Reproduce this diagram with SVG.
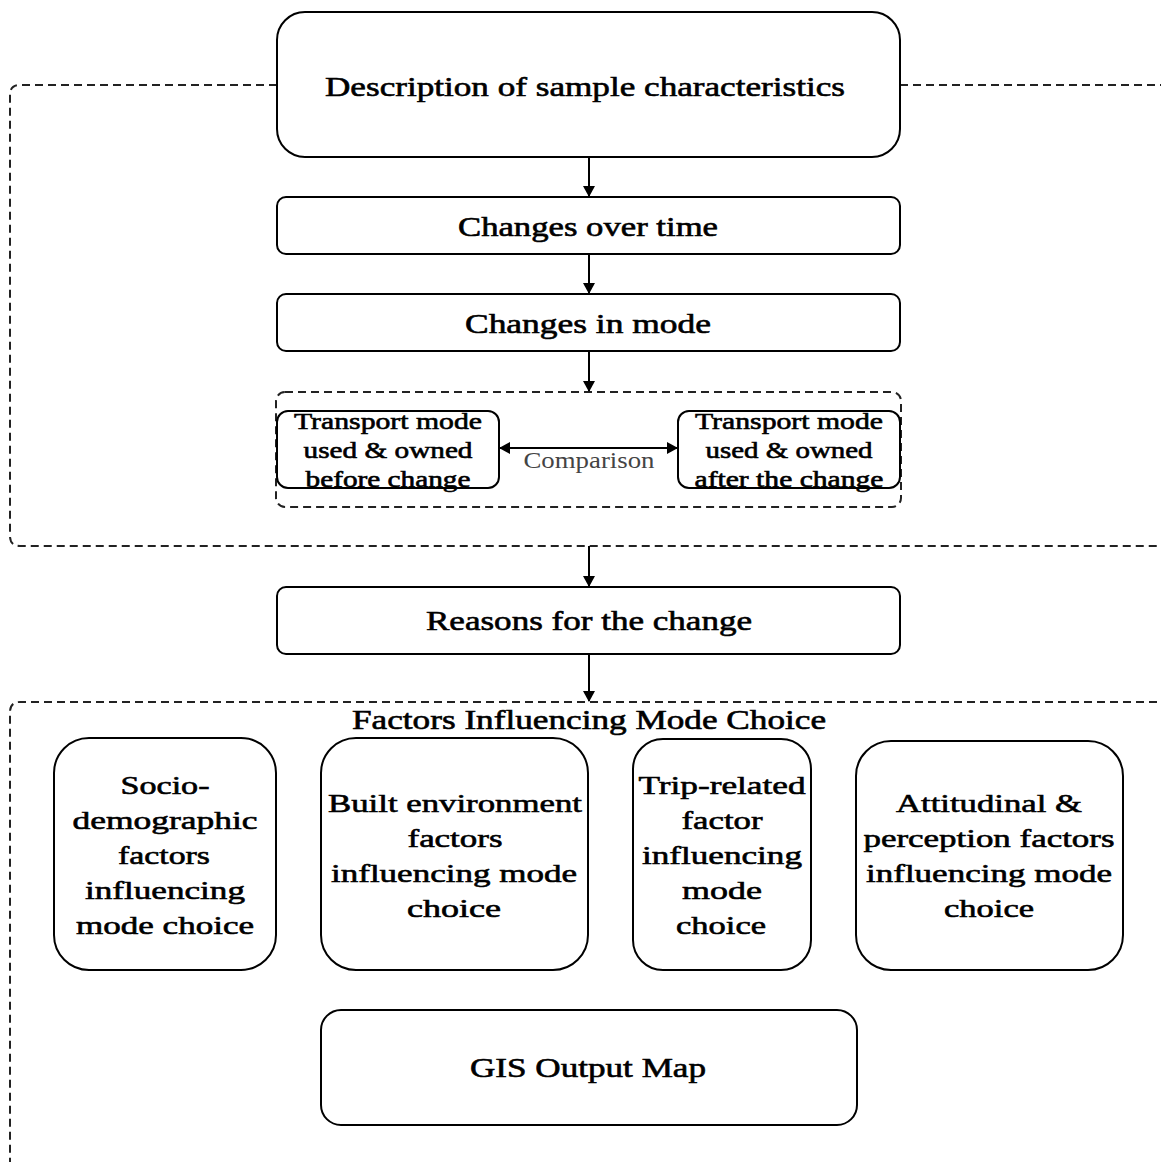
<svg xmlns="http://www.w3.org/2000/svg" width="1161" height="1162" viewBox="0 0 1161 1162">
<style>
.box{fill:#fff;stroke:#000;stroke-width:2}
.dash{fill:none;stroke:#222;stroke-width:2;stroke-dasharray:8 5}
.t{font-family:"Liberation Serif","Times New Roman",serif;fill:#000;stroke:#000;stroke-width:0.6;text-anchor:middle;dominant-baseline:central}
.s26{font-size:26px}
.s22{font-size:23px}
.c{font-family:"Liberation Serif","Times New Roman",serif;fill:#444;text-anchor:middle;dominant-baseline:central;font-size:23px}
.ln{stroke:#000;stroke-width:2;fill:none}
</style>
<defs>
<marker id="ah" markerWidth="12" markerHeight="12" refX="10" refY="6" orient="auto" markerUnits="userSpaceOnUse">
<path d="M0,0 L11,6 L0,12 Z" fill="#000"/>
</marker>
<marker id="ahs" markerWidth="12" markerHeight="12" refX="1" refY="6" orient="auto" markerUnits="userSpaceOnUse">
<path d="M11,0 L0,6 L11,12 Z" fill="#000"/>
</marker>
</defs>
<rect width="1161" height="1162" fill="#fff"/>
<g id="frames">
<path class="dash" d="M277,85 H20 Q10,85 10,95 V536 Q10,546 20,546 H1170"/>
<path class="dash" d="M900,85 H1170"/>
<path class="dash" d="M1170,702 H20 Q10,702 10,712 V1170"/>
<rect class="dash" x="276" y="392" width="625" height="115" rx="9"/>
</g>
<g id="connectors">
<line class="ln" x1="589" y1="157" x2="589" y2="196" marker-end="url(#ah)"/>
<line class="ln" x1="589" y1="254" x2="589" y2="293" marker-end="url(#ah)"/>
<line class="ln" x1="589" y1="351" x2="589" y2="391" marker-end="url(#ah)"/>
<line class="ln" x1="589" y1="546" x2="589" y2="586" marker-end="url(#ah)"/>
<line class="ln" x1="589" y1="654" x2="589" y2="701" marker-end="url(#ah)"/>
<line class="ln" x1="500" y1="448" x2="677" y2="448" marker-start="url(#ahs)" marker-end="url(#ah)"/>
<text class="c" x="589" y="460" textLength="131" lengthAdjust="spacingAndGlyphs">Comparison</text>
</g>
<g id="n-desc">
<rect class="box" x="277" y="12" width="623" height="145" rx="28"/>
<text class="t" x="585" y="86" font-size="28" textLength="520" lengthAdjust="spacingAndGlyphs">Description of sample characteristics</text>
</g>
<g id="n-time">
<rect class="box" x="277" y="197" width="623" height="57" rx="9"/>
<text class="t" x="588" y="227" font-size="27" textLength="260" lengthAdjust="spacingAndGlyphs">Changes over time</text>
</g>
<g id="n-mode">
<rect class="box" x="277" y="294" width="623" height="57" rx="9"/>
<text class="t" x="588" y="324" font-size="27" textLength="246" lengthAdjust="spacingAndGlyphs">Changes in mode</text>
</g>
<g id="n-before">
<rect class="box" x="277" y="411" width="222" height="77" rx="11"/>
<text class="t s22" x="388" y="421" textLength="188" lengthAdjust="spacingAndGlyphs">Transport mode</text>
<text class="t s22" x="388" y="450" textLength="169" lengthAdjust="spacingAndGlyphs">used &amp; owned</text>
<text class="t s22" x="388" y="479" textLength="165" lengthAdjust="spacingAndGlyphs">before change</text>
</g>
<g id="n-after">
<rect class="box" x="678" y="411" width="222" height="77" rx="11"/>
<text class="t s22" x="789" y="421" textLength="188" lengthAdjust="spacingAndGlyphs">Transport mode</text>
<text class="t s22" x="789" y="450" textLength="167" lengthAdjust="spacingAndGlyphs">used &amp; owned</text>
<text class="t s22" x="789" y="479" textLength="189" lengthAdjust="spacingAndGlyphs">after the change</text>
</g>
<g id="n-reasons">
<rect class="box" x="277" y="587" width="623" height="67" rx="9"/>
<text class="t" x="589" y="621" font-size="27" textLength="326" lengthAdjust="spacingAndGlyphs">Reasons for the change</text>
</g>
<g id="n-factors-title">
<text class="t" x="589" y="720" font-size="27" textLength="474" lengthAdjust="spacingAndGlyphs">Factors Influencing Mode Choice</text>
</g>
<g id="n-socio">
<rect class="box" x="54" y="738" width="222" height="232" rx="35"/>
<text class="t s26" x="165" y="785" textLength="89" lengthAdjust="spacingAndGlyphs">Socio-</text>
<text class="t s26" x="165" y="820" textLength="185" lengthAdjust="spacingAndGlyphs">demographic</text>
<text class="t s26" x="164" y="855" textLength="92" lengthAdjust="spacingAndGlyphs">factors</text>
<text class="t s26" x="165" y="890" textLength="160" lengthAdjust="spacingAndGlyphs">influencing</text>
<text class="t s26" x="165" y="925" textLength="178" lengthAdjust="spacingAndGlyphs">mode choice</text>
</g>
<g id="n-built">
<rect class="box" x="321" y="738" width="267" height="232" rx="35"/>
<text class="t s26" x="455" y="803" textLength="254" lengthAdjust="spacingAndGlyphs">Built environment</text>
<text class="t s26" x="455" y="838" textLength="95" lengthAdjust="spacingAndGlyphs">factors</text>
<text class="t s26" x="454" y="873" textLength="246" lengthAdjust="spacingAndGlyphs">influencing mode</text>
<text class="t s26" x="454" y="908" textLength="94" lengthAdjust="spacingAndGlyphs">choice</text>
</g>
<g id="n-trip">
<rect class="box" x="633" y="739" width="178" height="231" rx="30"/>
<text class="t s26" x="722" y="785" textLength="167" lengthAdjust="spacingAndGlyphs">Trip-related</text>
<text class="t s26" x="722" y="820" textLength="81" lengthAdjust="spacingAndGlyphs">factor</text>
<text class="t s26" x="722" y="855" textLength="160" lengthAdjust="spacingAndGlyphs">influencing</text>
<text class="t s26" x="722" y="890" textLength="80" lengthAdjust="spacingAndGlyphs">mode</text>
<text class="t s26" x="721" y="925" textLength="90" lengthAdjust="spacingAndGlyphs">choice</text>
</g>
<g id="n-att">
<rect class="box" x="856" y="741" width="267" height="229" rx="35"/>
<text class="t s26" x="989" y="803" textLength="186" lengthAdjust="spacingAndGlyphs">Attitudinal &amp;</text>
<text class="t s26" x="989" y="838" textLength="251" lengthAdjust="spacingAndGlyphs">perception factors</text>
<text class="t s26" x="989" y="873" textLength="246" lengthAdjust="spacingAndGlyphs">influencing mode</text>
<text class="t s26" x="989" y="908" textLength="90" lengthAdjust="spacingAndGlyphs">choice</text>
</g>
<g id="n-gis">
<rect class="box" x="321" y="1010" width="536" height="115" rx="20"/>
<text class="t" x="588" y="1068" font-size="27" textLength="236" lengthAdjust="spacingAndGlyphs">GIS Output Map</text>
</g>
</svg>
